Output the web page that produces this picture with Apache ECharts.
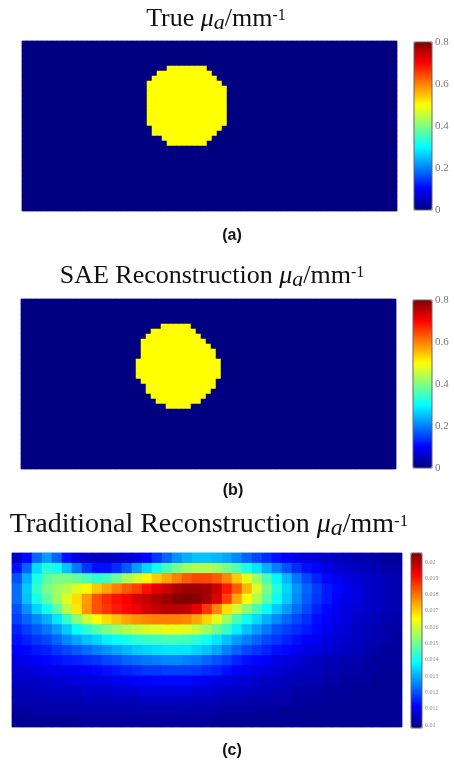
<!DOCTYPE html>
<html><head><meta charset="utf-8">
<script src="https://cdn.jsdelivr.net/npm/echarts@6/dist/echarts.min.js"></script>
<style>html,body{margin:0;padding:0;background:#fff}#c{width:454px;height:762px}</style>
</head><body><div id="c"></div>
<script>
// ---------- data ----------
const titleLeads = ['True ', 'SAE Reconstruction ', 'Traditional Reconstruction '];
const captions = ['(a)', '(b)', '(c)'];
const ticksAB = [0, 0.2, 0.4, 0.6, 0.8];
const ticksC = [0.01, 0.011, 0.012, 0.013, 0.014, 0.015, 0.016, 0.017, 0.018, 0.019, 0.02];
const rangeC = [0.0098, 0.0206];
const colsAB = 75, rowsAB = 34;
const trueValue = 0.5;
const saeValue = 0.5;
// [row, firstCol, lastCol] of the inclusion
const trueSpans = [[5,29,36],[6,27,37],[7,26,38],[8,25,39],[9,25,40],[10,25,40],[11,25,40],[12,25,40],[13,25,40],[14,25,40],[15,25,40],[16,25,40],[17,26,39],[18,26,38],[19,28,37],[20,29,36]];
const saeSpans = [[5,28,33],[6,26,34],[7,25,35],[8,24,36],[9,24,37],[10,24,38],[11,24,38],[12,23,39],[13,23,39],[14,23,39],[15,23,39],[16,24,38],[17,25,38],[18,25,37],[19,26,36],[20,27,35],[21,29,33]];
// traditional reconstruction, rows top->bottom, values in 1e-4 mm^-1
const tradRows = [
[106,112,122,128,122,113,108,106,105,105,106,107,109,112,117,122,127,130,132,132,131,129,126,122,119,116,113,111,109,108,107,106,105,104,103,103,102,101,101],
[113,122,135,142,140,132,124,117,113,113,116,121,128,134,140,146,151,155,157,157,155,151,147,141,136,130,125,120,116,113,111,109,107,106,105,104,103,102,102],
[120,130,141,148,151,151,149,146,143,145,150,156,161,166,171,175,179,183,185,185,183,178,171,163,155,146,138,131,124,119,115,112,110,108,107,106,105,104,103],
[123,133,144,151,155,158,162,166,171,175,179,183,186,191,195,198,201,203,203,202,198,190,183,173,162,151,142,134,127,122,118,114,112,110,108,106,105,104,103],
[123,132,141,148,155,162,169,176,184,188,191,193,197,199,201,203,205,206,205,202,196,186,175,166,157,148,140,133,126,121,117,114,111,109,108,106,105,104,103],
[120,127,134,140,148,158,168,177,184,187,190,192,194,197,199,200,200,199,195,187,178,169,160,153,146,139,133,128,123,119,115,112,110,108,107,106,105,104,103],
[118,122,126,130,136,144,153,160,165,169,172,175,177,178,179,179,179,178,175,170,163,155,146,140,135,130,126,122,119,116,113,111,109,108,106,105,104,103,102],
[115,118,121,124,128,133,139,143,147,151,154,157,159,161,162,163,163,162,159,155,150,144,137,132,128,124,120,118,116,114,112,110,108,107,105,104,103,102,102],
[113,115,117,119,122,126,129,132,134,137,139,141,143,144,145,146,146,145,143,140,136,132,128,125,122,119,117,115,113,111,110,108,107,106,105,104,103,102,101],
[111,112,114,115,117,119,121,123,125,127,129,131,133,134,135,136,136,136,134,132,129,125,122,119,117,115,113,112,110,109,108,107,106,105,104,103,102,101,101],
[109,110,111,112,113,114,115,116,117,119,120,122,123,124,125,126,126,125,124,122,120,118,115,113,112,111,109,108,107,106,105,104,104,103,103,102,101,101,101],
[107,107,108,109,109,110,110,111,112,113,114,115,116,117,117,118,118,118,117,116,115,113,111,110,109,108,107,106,105,105,104,103,103,102,102,101,101,100,100],
[105,105,106,106,107,107,108,108,108,109,110,110,111,111,112,112,112,112,111,110,109,108,107,107,106,105,105,104,104,103,103,102,102,101,101,101,100,100,100],
[104,104,104,105,105,105,105,106,106,106,107,107,107,108,108,108,108,108,107,107,106,106,105,105,104,104,103,103,102,102,102,101,101,101,100,100,100,100,100],
[103,103,103,103,103,103,103,104,104,104,104,104,104,105,105,105,105,104,104,104,104,103,103,103,102,102,102,102,101,101,101,101,100,100,100,100,100,100,100],
[101,101,102,102,102,102,102,102,102,102,102,102,102,102,102,102,102,102,102,102,102,101,101,101,101,101,101,100,100,100,100,100,100,100,100,100,100,100,100],
[100,100,100,100,100,100,100,101,101,101,101,101,101,101,101,101,101,101,101,101,100,100,100,100,100,100,100,100,100,100,100,100,100,100,100,100,100,100,100]
];
const jet = ['#000080','#0000ff','#0080ff','#00ffff','#80ff80','#ffff00','#ff8000','#ff0000','#800000'];

// ---------- build ----------
function maskData(spans, val){
  const d=[];
  for(let r=0;r<rowsAB;r++){
    const s=spans.find(q=>q[0]===r);
    for(let c=0;c<colsAB;c++){
      d.push([c,r,(s && c>=s[1] && c<=s[2])?val:0]);
    }
  }
  return d;
}
const tradData=[];
tradRows.forEach((row,r)=>row.forEach((v,c)=>tradData.push([c,r,v*1e-4])));
const idx=n=>Array.from({length:n},(_,i)=>i);

const serif='Liberation Serif';
function titleOpt(lead, cx, top, fs){
  const base={fontFamily:serif,fontWeight:'normal',color:'#111'};
  return {
    text:'{n|'+lead+'}{mu|μ}{sub|a}{n|/mm}{sup|-1}',
    left:cx, top:top, textAlign:'center', textVerticalAlign:'top', padding:0,
    textStyle:{fontWeight:'normal',rich:{
      n:Object.assign({fontSize:fs},base),
      mu:Object.assign({fontStyle:'italic',fontSize:fs},base),
      sub:Object.assign({fontStyle:'italic',fontSize:Math.round(fs*0.85),padding:[8,0,0,0]},base),
      sup:Object.assign({fontSize:Math.round(fs*0.6),padding:[0,0,6,0]},base)
    }}
  };
}
function capOpt(t, cx, top){
  return {text:t,left:cx,top:top,textAlign:'center',textVerticalAlign:'top',padding:0,
    textStyle:{fontFamily:'Liberation Sans',fontWeight:'bold',fontSize:16,color:'#111'}};
}
const heatGrid=(l,t,w,h)=>({left:l,top:t,width:w,height:h,show:true,borderColor:'#a8a8e0',borderWidth:1,backgroundColor:'#000086'});
const barGrid=(l,t,w,h)=>({left:l,top:t,width:w,height:h,show:true,borderColor:'#666',borderWidth:1,backgroundColor:'transparent',z:10});

const option={
  animation:false,
  backgroundColor:'#fff',
  title:[
    titleOpt(titleLeads[0],216,4,26),
    titleOpt(titleLeads[1],212,261,26),
    titleOpt(titleLeads[2],209,509,28),
    capOpt(captions[0],232,228),
    capOpt(captions[1],233,483),
    capOpt(captions[2],232,743)
  ],
  grid:[
    heatGrid(22,41,375,170),
    heatGrid(21,299,375,170),
    heatGrid(12,553,390,174),
    barGrid(414,42,18,168),
    barGrid(413,300,19,168),
    barGrid(411,553,11,175),
    {left:411,top:562,width:11,height:163,show:false}
  ],
  xAxis:[
    {type:'category',gridIndex:0,data:idx(colsAB),show:false},
    {type:'category',gridIndex:1,data:idx(colsAB),show:false},
    {type:'category',gridIndex:2,data:idx(tradRows[0].length),show:false},
    {type:'value',gridIndex:3,show:false,min:0,max:1},
    {type:'value',gridIndex:4,show:false,min:0,max:1},
    {type:'value',gridIndex:5,show:false,min:0,max:1},
    {type:'value',gridIndex:6,show:false,min:0,max:1}
  ],
  yAxis:[
    {type:'category',gridIndex:0,data:idx(rowsAB),inverse:true,show:false},
    {type:'category',gridIndex:1,data:idx(rowsAB),inverse:true,show:false},
    {type:'category',gridIndex:2,data:idx(tradRows.length),inverse:true,show:false},
    {type:'value',gridIndex:3,position:'right',min:ticksAB[0],max:ticksAB[ticksAB.length-1],interval:ticksAB[1]-ticksAB[0],
      axisLine:{show:false},axisTick:{show:false},splitLine:{show:false},
      axisLabel:{fontFamily:serif,fontSize:11,color:'#777',margin:3}},
    {type:'value',gridIndex:4,position:'right',min:ticksAB[0],max:ticksAB[ticksAB.length-1],interval:ticksAB[1]-ticksAB[0],
      axisLine:{show:false},axisTick:{show:false},splitLine:{show:false},
      axisLabel:{fontFamily:serif,fontSize:11,color:'#777',margin:3}},
    {type:'value',gridIndex:5,show:false,min:0,max:1},
    {type:'value',gridIndex:6,position:'right',min:ticksC[0],max:ticksC[ticksC.length-1],interval:0.001,
      axisLine:{show:false},axisTick:{show:false},splitLine:{show:false},
      axisLabel:{fontFamily:serif,fontSize:6,color:'#888',margin:3}}
  ],
  visualMap:[
    {type:'continuous',seriesIndex:0,min:0,max:0.8,inRange:{color:jet},left:414,top:42,itemWidth:18,itemHeight:168,padding:0,calculable:false,hoverLink:false,text:null,showLabel:false},
    {type:'continuous',seriesIndex:1,min:0,max:0.8,inRange:{color:jet},left:413,top:300,itemWidth:19,itemHeight:168,padding:0,calculable:false,hoverLink:false,text:null,showLabel:false},
    {type:'continuous',seriesIndex:2,min:rangeC[0],max:rangeC[1],inRange:{color:jet},left:411,top:553,itemWidth:11,itemHeight:175,padding:0,calculable:false,hoverLink:false,text:null,showLabel:false}
  ],
  series:[
    {type:'heatmap',xAxisIndex:0,yAxisIndex:0,data:maskData(trueSpans,trueValue),emphasis:{disabled:true}},
    {type:'heatmap',xAxisIndex:1,yAxisIndex:1,data:maskData(saeSpans,saeValue),emphasis:{disabled:true}},
    {type:'heatmap',xAxisIndex:2,yAxisIndex:2,data:tradData,emphasis:{disabled:true}},
    {type:'scatter',xAxisIndex:3,yAxisIndex:3,data:[]},
    {type:'scatter',xAxisIndex:4,yAxisIndex:4,data:[]},
    {type:'scatter',xAxisIndex:5,yAxisIndex:5,data:[]},
    {type:'scatter',xAxisIndex:6,yAxisIndex:6,data:[]}
  ]
};
const chart=echarts.init(document.getElementById('c'),null,{renderer:'canvas'});
chart.setOption(option);
</script></body></html>
